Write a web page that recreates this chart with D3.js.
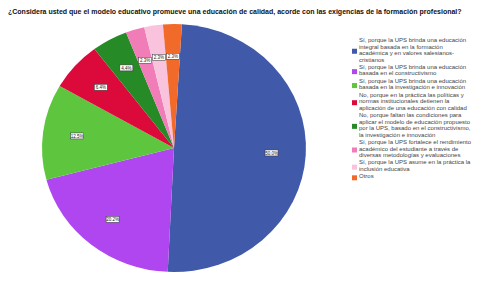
<!DOCTYPE html>
<html>
<head>
<meta charset="utf-8">
<script src="https://cdn.jsdelivr.net/npm/d3@7"></script>
<style>
  body { margin: 0; background: #fff; }
  svg { display: block; font-family: "Liberation Sans", Arial, sans-serif; }
</style>
</head>
<body>
<div id="chart"></div>
<script>
const title = "¿Considera usted que el modelo educativo promueve una educación de calidad, acorde con las exigencias de la formación profesional?";

const categories = [
    ["Sí, porque la UPS brinda una educación", "integral basada en la formación", "académica y en valores salesianos-", "cristianos"],
    ["Sí, porque la UPS brinda una educación", "basada en el constructivismo"],
    ["Sí, porque la UPS brinda una educación", "basada en la investigación e innovación"],
    ["No, porque en la práctica las políticas y", "normas institucionales detienen la", "aplicación de una educación con calidad"],
    ["No, porque faltan las condiciones para", "aplicar el modelo de educación propuesto", "por la UPS, basado en el constructivismo,", "la investigación e innovación"],
    ["Sí, porque la UPS fortalece el rendimiento", "académico del estudiante a través de", "diversas metodologías y evaluaciones"],
    ["Sí, porque la UPS asume en la práctica la", "inclusión educativa"],
    ["Otros"]
];
const values = [50.0, 20.2, 12.5, 6.4, 4.4, 2.3, 2.3, 2.3];
const colors = ["#4059a9", "#b046f0", "#5ec63e", "#dc0a3a", "#268a26", "#f07cb8", "#f9c2dd", "#f26a2a"];

const width = 479, height = 287;
const cx = 174, cy = 148, rx = 132, ry = 124;
const rot = 0.06;

const svg = d3.select("#chart").append("svg")
    .attr("width", width)
    .attr("height", height);

svg.append("text")
    .attr("x", 8)
    .attr("y", 14)
    .attr("font-size", 7)
    .attr("font-weight", "bold")
    .attr("fill", "#111")
    .text(title);

const pie = d3.pie().sort(null).value(d => d)
    .startAngle(rot).endAngle(2 * Math.PI + rot);
const arcs = pie(values);

const arc = d3.arc().innerRadius(0).outerRadius(rx);
const labelArc = d3.arc().innerRadius(rx * 0.74).outerRadius(rx * 0.74);

const g = svg.append("g")
    .attr("transform", `translate(${cx},${cy}) scale(1,${ry / rx})`);

g.selectAll("path")
    .data(arcs)
    .join("path")
    .attr("d", arc)
    .attr("fill", (d, i) => colors[i]);

// data labels (un-scaled so text is not squashed)
const lg = svg.append("g").attr("transform", `translate(${cx},${cy})`);
const labels = lg.selectAll("g.lbl")
    .data(arcs)
    .join("g")
    .attr("class", "lbl")
    .attr("transform", d => {
        const [x, y] = labelArc.centroid(d);
        return `translate(${x},${y * ry / rx})`;
    });

labels.append("rect")
    .attr("x", -6.5)
    .attr("y", -3)
    .attr("width", 13)
    .attr("height", 6)
    .attr("fill", "#fff")
    .attr("stroke", "#333")
    .attr("stroke-width", 0.5);

labels.append("text")
    .attr("text-anchor", "middle")
    .attr("y", 1.6)
    .attr("font-size", 4.5)
    .attr("fill", "#222")
    .text(d => d.data.toFixed(1) + "%");

// legend
const lineH = 6.5, gap = 0.9;
const legend = svg.append("g").attr("transform", "translate(352,41)");
let yPos = 0;
categories.forEach((lines, i) => {
    const item = legend.append("g").attr("transform", `translate(0,${yPos})`);
    const blockH = lines.length * lineH;
    item.append("rect")
        .attr("x", 0)
        .attr("y", blockH / 2 - lineH / 2 - 2)
        .attr("width", 5)
        .attr("height", 5)
        .attr("fill", colors[i]);
    item.selectAll("text")
        .data(lines)
        .join("text")
        .attr("x", 7)
        .attr("y", (d, j) => j * lineH + 1)
        .attr("font-size", 6)
        .attr("fill", "#444")
        .text(d => d);
    yPos += blockH + gap;
});
</script>
</body>
</html>
